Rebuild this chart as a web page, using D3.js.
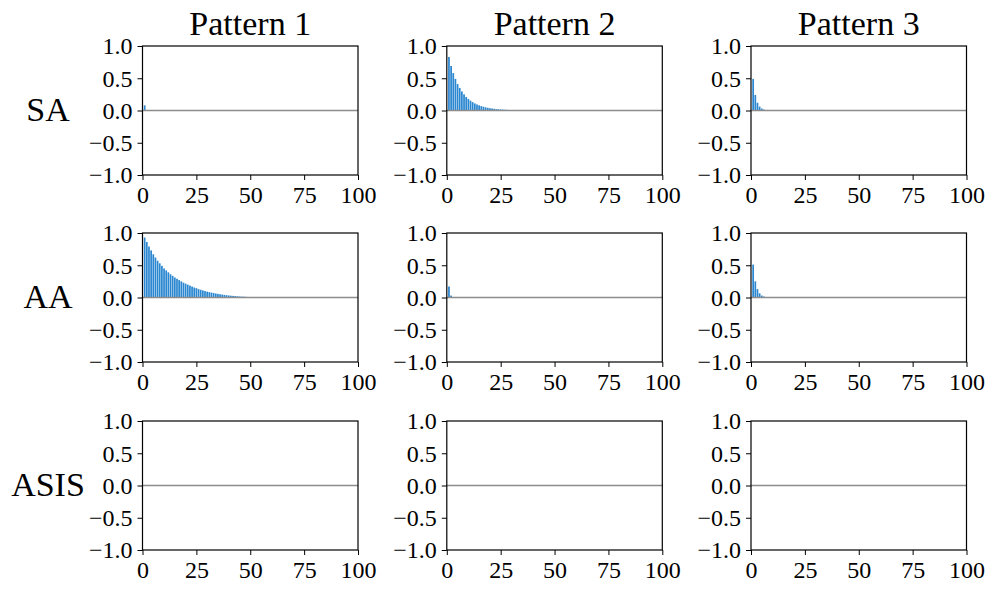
<!DOCTYPE html>
<html>
<head>
<meta charset="utf-8">
<script src="https://cdn.jsdelivr.net/npm/d3@7/dist/d3.min.js"></script>
<style>
  html, body { margin: 0; padding: 0; background: #fff; }
  svg text { font-family: "Liberation Serif", "Times New Roman", serif; fill: #000; }
</style>
</head>
<body>
<svg id="chart" width="996" height="593"></svg>
<script>
// ---- data ----
const patterns = ["Pattern 1", "Pattern 2", "Pattern 3"];
const methods = ["SA", "AA", "ASIS"];
const xTicks = [0, 25, 50, 75, 100];
const yTicks = [-1.0, -0.5, 0.0, 0.5, 1.0];

// values per lag, starting at lag 1
const saPattern1 = [0.08];
const saPattern2 = [0.83, 0.69, 0.58, 0.49, 0.41, 0.35, 0.295, 0.25, 0.21, 0.18,
                    0.152, 0.13, 0.11, 0.094, 0.08, 0.068, 0.058, 0.049, 0.042, 0.036,
                    0.031, 0.026, 0.022, 0.019, 0.016, 0.014, 0.012, 0.010, 0.008, 0.007];
const saPattern3 = [0.49, 0.24, 0.12, 0.06, 0.03, 0.015];
const aaPattern1 = [0.93, 0.86, 0.79, 0.73, 0.67, 0.62, 0.57, 0.53, 0.49, 0.45,
                    0.42, 0.39, 0.36, 0.335, 0.31, 0.29, 0.27, 0.25, 0.23, 0.215,
                    0.20, 0.185, 0.17, 0.155, 0.145, 0.13, 0.12, 0.11, 0.10, 0.09,
                    0.083, 0.076, 0.069, 0.062, 0.056, 0.05, 0.045, 0.04, 0.036, 0.032,
                    0.028, 0.025, 0.022, 0.019, 0.016, 0.014, 0.012, 0.01, 0.008, 0.006];
const aaPattern2 = [0.17, 0.03];
const aaPattern3 = [0.51, 0.25, 0.13, 0.065, 0.03, 0.015];
const asisPattern1 = [];
const asisPattern2 = [];
const asisPattern3 = [];

const grid = [
  [saPattern1, saPattern2, saPattern3],
  [aaPattern1, aaPattern2, aaPattern3],
  [asisPattern1, asisPattern2, asisPattern3]
];

// ---- layout ----
const colLeft = [142.5, 446.8, 751];
const rowTop = [46, 233, 421];
const pw = 215.5, ph = 129;
const barColor = "#2b87d0";

const svg = d3.select("#chart");

for (let r = 0; r < 3; r++) {
  for (let c = 0; c < 3; c++) {
    const x0 = colLeft[c], y0 = rowTop[r];
    const x = d3.scaleLinear().domain([0, 100]).range([0, pw]);
    const y = d3.scaleLinear().domain([-1, 1]).range([ph, 0]);
    const g = svg.append("g").attr("transform", `translate(${x0},${y0})`);

    // bars
    const vals = grid[r][c].map((v, i) => ({ lag: i + 1, v }));
    g.selectAll("rect.bar").data(vals).enter().append("rect")
      .attr("class", "bar")
      .attr("x", d => x(d.lag - 0.4))
      .attr("width", d => x(d.lag + 0.4) - x(d.lag - 0.4))
      .attr("y", d => y(Math.max(d.v, 0)))
      .attr("height", d => Math.abs(y(d.v) - y(0)))
      .attr("fill", barColor);

    // zero line
    g.append("line")
      .attr("x1", x(0)).attr("x2", x(100))
      .attr("y1", y(0)).attr("y2", y(0))
      .attr("stroke", "#8c8c8c").attr("stroke-width", 1.5);

    // axes
    const xa = d3.axisBottom(x).tickValues(xTicks).tickSize(5).tickPadding(6)
      .tickFormat(d3.format("d"));
    const ya = d3.axisLeft(y).tickValues(yTicks).tickSize(5).tickPadding(5)
      .tickFormat(d => (d < 0 ? "\u2212" : "") + Math.abs(d).toFixed(1));
    const gx = g.append("g").attr("transform", `translate(0,${ph})`).call(xa);
    const gy = g.append("g").call(ya);
    [gx, gy].forEach(ax => {
      ax.select(".domain").remove();
      ax.selectAll("line").attr("stroke", "#000").attr("stroke-width", 1);
      ax.selectAll("text").style("font-size", "24px")
        .style("font-family", '"Liberation Serif", serif');
    });
    gy.selectAll("text").attr("dy", "0.33em");
    gx.selectAll("text").attr("dy", "0.71em");

    // frame
    g.append("rect").attr("x", 0).attr("y", 0).attr("width", pw).attr("height", ph)
      .attr("fill", "none").attr("stroke", "#000").attr("stroke-width", 1.2);

    if (r === 0) {
      svg.append("text").attr("x", x0 + pw / 2).attr("y", 35)
        .attr("text-anchor", "middle").style("font-size", "34px").text(patterns[c]);
    }
    if (c === 0) {
      svg.append("text").attr("x", 48).attr("y", y0 + y(0) + 10)
        .attr("text-anchor", "middle").style("font-size", "34px").text(methods[r]);
    }
  }
}
</script>
</body>
</html>
